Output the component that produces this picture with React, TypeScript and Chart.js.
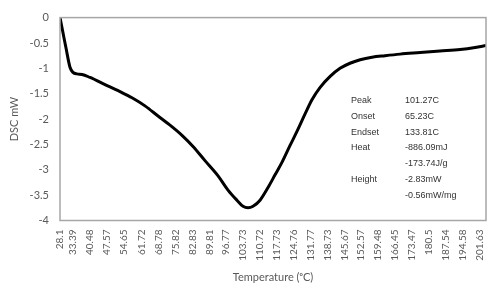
import React, { useEffect, useRef } from "react";
import { Chart, registerables } from "chart.js";

Chart.register(...registerables);

// Temperature (°C) of each traced sample
const temperatures = [
  28.1, 29.34, 30.58, 32.23, 33.47, 35.12, 37.19, 40.5, 46.7, 52.9, 57.85, 63.2,
  68.6, 73.55, 78.5, 83.06, 88.0, 93.4, 97.5, 101.2, 103.7, 105.8, 107.85,
  110.75, 114.05, 116.95, 119.85, 123.15, 126.05, 129.35, 132.2, 135.5, 139.7,
  143.8, 147.9, 152.1, 157.0, 162.4, 168.6, 176.9, 185.1, 193.4, 199.6, 204.1,
];
// DSC signal (mW)
const dscValues = [
  0, -0.3, -0.6, -0.98, -1.08, -1.11, -1.12, -1.18, -1.32, -1.46, -1.58, -1.74,
  -1.94, -2.12, -2.32, -2.54, -2.82, -3.12, -3.4, -3.6, -3.72, -3.75, -3.72,
  -3.6, -3.35, -3.1, -2.85, -2.52, -2.24, -1.9, -1.62, -1.38, -1.16, -1.0,
  -0.9, -0.83, -0.78, -0.75, -0.72, -0.69, -0.66, -0.63, -0.59, -0.55,
];
// x-axis tick labels (temperatures shown)
const tickValues = [
  28.1, 33.39, 40.48, 47.57, 54.65, 61.72, 68.78, 75.82, 82.83, 89.81, 96.77,
  103.73, 110.72, 117.73, 124.76, 131.77, 138.73, 145.67, 152.57, 159.48,
  166.45, 173.47, 180.5, 187.54, 194.58, 201.63,
];
const tickLabels = tickValues.map((v) => String(v));

// Annotation table
const statNames = ["Peak", "Onset", "Endset", "Heat", "", "Height", ""];
const statValues = [
  "101.27C",
  "65.23C",
  "133.81C",
  "-886.09mJ",
  "-173.74J/g",
  "-2.83mW",
  "-0.56mW/mg",
];

const FONT = "'Liberation Sans', Arial, sans-serif";
const AXIS_FONT = "Lato, 'Open Sans', sans-serif";
const GRAY = "#595959";

const boxAndTextPlugin = {
  id: "boxAndText",
  afterDraw(chart: any) {
    const { ctx, chartArea } = chart;
    ctx.save();
    ctx.strokeStyle = "#a6a6a6";
    ctx.lineWidth = 1.5;
    ctx.strokeRect(
      chartArea.left,
      chartArea.top,
      chartArea.right - chartArea.left,
      chartArea.bottom - chartArea.top
    );
    const w = chartArea.right - chartArea.left;
    const h = chartArea.bottom - chartArea.top;
    const x1 = chartArea.left + w * 0.683;
    const x2 = chartArea.left + w * 0.81;
    const y0 = chartArea.top + h * 0.41;
    const dy = h * 0.0775;
    ctx.fillStyle = "#333333";
    ctx.font = `9px ${FONT}`;
    ctx.textBaseline = "middle";
    ctx.textAlign = "left";
    statNames.forEach((n, i) => {
      if (n) ctx.fillText(n, x1, y0 + dy * i);
    });
    statValues.forEach((v, i) => {
      ctx.fillText(v, x2, y0 + dy * i);
    });
    ctx.restore();
  },
};

export default function App() {
  const ref = useRef<HTMLCanvasElement>(null);
  useEffect(() => {
    document.body.style.margin = "0";
    const canvas = ref.current!;
    const chart = new Chart(canvas, {
      type: "line",
      data: {
        datasets: [
          {
            data: temperatures.map((t, i) => ({ x: t, y: dscValues[i] })),
            borderColor: "#000000",
            borderWidth: 3,
            pointRadius: 0,
            cubicInterpolationMode: "monotone",
            fill: false,
          },
        ],
      },
      options: {
        responsive: false,
        animation: false,
        layout: { padding: { top: 16, right: 1, left: 0, bottom: 0 } },
        plugins: { legend: { display: false }, tooltip: { enabled: false } },
        scales: {
          x: {
            type: "linear",
            min: 28.1,
            max: 204.1,
            grid: { display: false, drawTicks: false },
            border: { display: false },
            afterBuildTicks: (scale: any) => {
              scale.ticks = tickValues.map((v) => ({ value: v }));
            },
            afterFit: (scale: any) => {
              scale.height = 67.5;
              scale.paddingLeft = 0;
              scale.paddingRight = 0;
            },
            ticks: {
              autoSkip: false,
              maxRotation: 90,
              minRotation: 90,
              padding: 9,
              color: GRAY,
              font: { size: 10, family: AXIS_FONT },
              callback: (_v: any, i: number) => tickLabels[i],
            },
            title: {
              display: true,
              text: "Temperature (ᵒC)",
              color: GRAY,
              font: { size: 11, family: AXIS_FONT },
              padding: { top: 2, bottom: 4 },
            },
          },
          y: {
            type: "linear",
            min: -4,
            max: 0,
            grid: { display: false, drawTicks: false },
            border: { display: false },
            afterFit: (scale: any) => {
              scale.width = 60;
            },
            ticks: {
              stepSize: 0.5,
              padding: 11,
              color: GRAY,
              font: { size: 11, family: AXIS_FONT },
              callback: (v: any) => String(Math.round(Number(v) * 10) / 10),
            },
            title: {
              display: true,
              text: "DSC mW",
              color: GRAY,
              font: { size: 11, family: AXIS_FONT },
              padding: { top: 8, bottom: 4 },
            },
          },
        },
      },
      plugins: [boxAndTextPlugin],
    } as any);
    return () => chart.destroy();
  }, []);
  return (
    <div style={{ width: 487, height: 288, position: "relative" }}>
      <canvas ref={ref} width={487} height={288} style={{ display: "block" }} />
    </div>
  );
}
